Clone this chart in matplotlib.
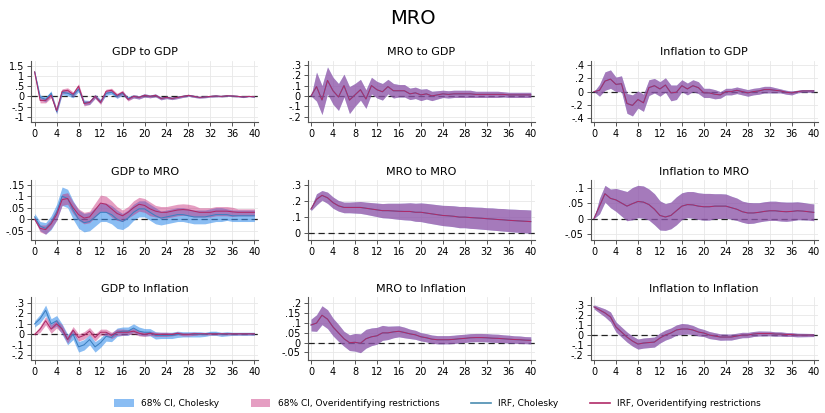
import numpy as np
import matplotlib
matplotlib.use("Agg")
import matplotlib.pyplot as plt
from matplotlib.patches import Patch
from matplotlib.lines import Line2D
from matplotlib.ticker import FuncFormatter

horizon = np.arange(41)

# GDP to GDP
gdp_gdp_chol = [1.2, -0.05, -0.15, 0.15, -0.75, 0.2, 0.15, 0.05, 0.35, -0.3, -0.3, 0.0, -0.25, 0.15, 0.2, 0.0, 0.15, -0.1, 0.0, -0.05, 0.05,
                0.0, 0.05, -0.1, -0.05, -0.1, -0.05, 0.0, 0.05, 0.0, -0.05, -0.03, 0.0, 0.02, 0.0, 0.03, 0.02, 0.0, -0.03, 0.0, -0.02]
gdp_gdp_over = [1.2, -0.2, -0.2, 0.05, -0.7, 0.25, 0.3, 0.1, 0.5, -0.35, -0.3, 0.0, -0.3, 0.25, 0.3, 0.05, 0.2, -0.15, 0.0, -0.05, 0.05,
                0.0, 0.05, -0.1, -0.05, -0.1, -0.05, 0.0, 0.05, 0.0, -0.05, -0.03, 0.0, 0.02, 0.0, 0.03, 0.02, 0.0, -0.03, 0.0, -0.02]
gdp_gdp_hw = [0.05, 0.12, 0.12, 0.12, 0.12, 0.12, 0.12, 0.12, 0.12, 0.12, 0.1, 0.1, 0.1, 0.1, 0.1, 0.1, 0.1, 0.08, 0.08, 0.08, 0.08,
              0.07, 0.07, 0.07, 0.06, 0.06, 0.06, 0.05, 0.05, 0.05, 0.04, 0.04, 0.04, 0.04, 0.03, 0.03, 0.03, 0.03, 0.03, 0.02, 0.02]

# MRO to GDP
mro_gdp = [0.0, 0.09, -0.04, 0.15, 0.05, -0.01, 0.1, -0.04, 0.01, 0.06, -0.03, 0.1, 0.06, 0.04, 0.09, 0.05, 0.05, 0.05, 0.02, 0.03, 0.01,
           0.02, 0.0, 0.01, 0.02, 0.015, 0.02, 0.02, 0.02, 0.02, 0.015, 0.015, 0.015, 0.015, 0.015, 0.015, 0.01, 0.01, 0.01, 0.01, 0.01]
mro_gdp_hw = [0.0, 0.14, 0.14, 0.13, 0.13, 0.13, 0.11, 0.13, 0.11, 0.1, 0.09, 0.08, 0.08, 0.08, 0.07, 0.07, 0.06, 0.06, 0.055, 0.055, 0.055,
              0.05, 0.045, 0.04, 0.035, 0.035, 0.035, 0.035, 0.035, 0.035, 0.03, 0.03, 0.03, 0.03, 0.03, 0.025, 0.025, 0.025, 0.025, 0.025, 0.025]

# Inflation to GDP
inf_gdp = [0.0, 0.02, 0.16, 0.19, 0.11, 0.12, -0.18, -0.21, -0.12, -0.17, 0.06, 0.09, 0.04, 0.1, -0.02, -0.01, 0.09, 0.04, 0.09, 0.06, -0.02,
           -0.02, -0.04, -0.05, 0.0, 0.0, 0.02, 0.0, -0.02, 0.0, 0.01, 0.03, 0.03, 0.02, 0.01, -0.01, -0.02, 0.0, 0.01, 0.01, 0.01]
inf_gdp_hw = [0.0, 0.09, 0.14, 0.14, 0.11, 0.12, 0.15, 0.16, 0.13, 0.13, 0.12, 0.11, 0.11, 0.11, 0.12, 0.11, 0.09, 0.09, 0.09, 0.09, 0.07,
              0.07, 0.07, 0.05, 0.05, 0.05, 0.05, 0.05, 0.05, 0.05, 0.05, 0.05, 0.05, 0.04, 0.03, 0.03, 0.03, 0.02, 0.02, 0.02, 0.02]

# GDP to MRO
gdp_mro_chol = [0.01, -0.03, -0.04, -0.015, 0.03, 0.1, 0.09, 0.04, 0.0, -0.015, -0.01, 0.01, 0.03, 0.03, 0.02, 0.0, -0.01, 0.005, 0.03, 0.045, 0.045,
                0.03, 0.015, 0.005, 0.01, 0.015, 0.02, 0.02, 0.015, 0.01, 0.01, 0.01, 0.015, 0.02, 0.02, 0.02, 0.015, 0.015, 0.015, 0.015, 0.015]
gdp_mro_chol_hw = [0.015, 0.02, 0.025, 0.03, 0.035, 0.04, 0.04, 0.04, 0.04, 0.04, 0.04, 0.04, 0.04, 0.04, 0.04, 0.04, 0.035, 0.035, 0.035, 0.035, 0.035,
                   0.035, 0.035, 0.03, 0.03, 0.03, 0.03, 0.03, 0.03, 0.03, 0.03, 0.03, 0.03, 0.03, 0.03, 0.025, 0.025, 0.025, 0.025, 0.025, 0.025]
gdp_mro_over = [0.0, -0.04, -0.045, -0.02, 0.02, 0.085, 0.09, 0.05, 0.02, 0.005, 0.01, 0.04, 0.07, 0.065, 0.045, 0.025, 0.015, 0.03, 0.05, 0.065, 0.06,
                0.045, 0.035, 0.03, 0.03, 0.035, 0.04, 0.042, 0.04, 0.035, 0.03, 0.03, 0.03, 0.035, 0.035, 0.035, 0.032, 0.03, 0.03, 0.03, 0.03]
gdp_mro_over_hw = [0.005, 0.015, 0.02, 0.02, 0.025, 0.025, 0.025, 0.025, 0.025, 0.025, 0.025, 0.03, 0.035, 0.035, 0.035, 0.03, 0.025, 0.025, 0.03, 0.03, 0.03,
                   0.03, 0.025, 0.025, 0.025, 0.025, 0.025, 0.025, 0.025, 0.025, 0.02, 0.02, 0.02, 0.02, 0.02, 0.02, 0.02, 0.015, 0.015, 0.015, 0.015]

# MRO to MRO
mro_mro = [0.15, 0.21, 0.235, 0.22, 0.19, 0.17, 0.16, 0.16, 0.16, 0.16, 0.155, 0.15, 0.145, 0.14, 0.14, 0.138, 0.136, 0.135, 0.135, 0.13, 0.13,
           0.125, 0.12, 0.115, 0.11, 0.108, 0.105, 0.1, 0.1, 0.097, 0.095, 0.093, 0.09, 0.088, 0.085, 0.083, 0.08, 0.078, 0.076, 0.074, 0.072]
mro_mro_hw = [0.01, 0.035, 0.03, 0.035, 0.035, 0.033, 0.033, 0.033, 0.035, 0.037, 0.038, 0.04, 0.042, 0.044, 0.046, 0.048, 0.05, 0.052, 0.054, 0.056, 0.058,
              0.06, 0.061, 0.062, 0.063, 0.064, 0.065, 0.066, 0.066, 0.067, 0.067, 0.068, 0.068, 0.069, 0.069, 0.07, 0.07, 0.071, 0.071, 0.072, 0.072]

# Inflation to MRO
inf_mro = [0.0, 0.04, 0.08, 0.065, 0.06, 0.05, 0.04, 0.048, 0.055, 0.053, 0.045, 0.03, 0.01, 0.005, 0.01, 0.025, 0.04, 0.045, 0.044, 0.04, 0.038,
           0.038, 0.04, 0.04, 0.04, 0.035, 0.03, 0.022, 0.018, 0.018, 0.02, 0.023, 0.025, 0.025, 0.023, 0.022, 0.023, 0.025, 0.024, 0.022, 0.02]
inf_mro_hw = [0.0, 0.025, 0.027, 0.03, 0.037, 0.042, 0.047, 0.052, 0.052, 0.052, 0.05, 0.05, 0.047, 0.043, 0.043, 0.045, 0.043, 0.042, 0.043, 0.043, 0.043,
              0.043, 0.04, 0.04, 0.039, 0.037, 0.036, 0.034, 0.034, 0.033, 0.031, 0.031, 0.031, 0.031, 0.031, 0.031, 0.03, 0.029, 0.028, 0.027, 0.027]

# GDP to Inflation
gdp_inf_chol = [0.1, 0.15, 0.23, 0.1, 0.13, 0.05, -0.05, 0.0, -0.12, -0.1, -0.05, -0.12, -0.08, -0.02, -0.03, 0.02, 0.03, 0.03, 0.06, 0.03, 0.02,
                0.02, -0.01, -0.01, -0.01, -0.01, 0.0, 0.0, 0.0, 0.0, 0.0, 0.0, 0.01, 0.01, 0.0, 0.005, 0.005, 0.005, 0.005, 0.005, 0.005]
gdp_inf_chol_hw = [0.03, 0.04, 0.05, 0.05, 0.05, 0.05, 0.05, 0.05, 0.05, 0.05, 0.05, 0.05, 0.045, 0.045, 0.04, 0.04, 0.04, 0.04, 0.04, 0.04, 0.035,
                   0.035, 0.035, 0.03, 0.03, 0.03, 0.03, 0.025, 0.025, 0.025, 0.025, 0.02, 0.02, 0.02, 0.02, 0.02, 0.015, 0.015, 0.015, 0.015, 0.015]
gdp_inf_over = [0.0, 0.05, 0.13, 0.05, 0.1, 0.05, -0.05, 0.04, -0.03, -0.01, 0.03, -0.03, 0.02, 0.02, -0.01, 0.02, 0.02, 0.02, 0.03, 0.01, 0.0,
                0.01, 0.0, 0.0, 0.0, 0.0, 0.01, 0.0, 0.0, 0.005, 0.005, 0.005, 0.005, 0.005, 0.005, 0.005, 0.005, 0.005, 0.005, 0.005, 0.005]
gdp_inf_over_hw = [0.01, 0.03, 0.04, 0.04, 0.04, 0.04, 0.035, 0.035, 0.035, 0.035, 0.035, 0.035, 0.03, 0.03, 0.03, 0.03, 0.03, 0.025, 0.025, 0.025, 0.02,
                   0.02, 0.02, 0.02, 0.02, 0.015, 0.015, 0.015, 0.015, 0.015, 0.01, 0.01, 0.01, 0.01, 0.01, 0.01, 0.01, 0.01, 0.01, 0.01, 0.01]

# MRO to Inflation
mro_inf = [0.09, 0.1, 0.14, 0.12, 0.08, 0.05, 0.02, 0.0, 0.002, -0.003, 0.02, 0.03, 0.035, 0.05, 0.05, 0.055, 0.058, 0.052, 0.045, 0.04, 0.03,
           0.025, 0.018, 0.015, 0.015, 0.015, 0.017, 0.02, 0.022, 0.025, 0.026, 0.026, 0.025, 0.023, 0.022, 0.02, 0.018, 0.016, 0.015, 0.013, 0.012]
mro_inf_hw = [0.03, 0.042, 0.048, 0.048, 0.045, 0.043, 0.038, 0.04, 0.045, 0.048, 0.048, 0.045, 0.043, 0.038, 0.034, 0.03, 0.028, 0.027, 0.024, 0.023, 0.021,
              0.021, 0.021, 0.021, 0.021, 0.021, 0.021, 0.021, 0.021, 0.021, 0.021, 0.021, 0.021, 0.021, 0.021, 0.02, 0.02, 0.019, 0.019, 0.018, 0.018]

# Inflation to Inflation
inf_inf = [0.28, 0.25, 0.22, 0.18, 0.08, 0.03, -0.02, -0.06, -0.09, -0.08, -0.075, -0.07, -0.03, 0.0, 0.02, 0.05, 0.06, 0.06, 0.05, 0.03, 0.02,
           0.0, -0.01, -0.02, -0.02, -0.02, -0.01, 0.0, 0.0, 0.01, 0.015, 0.015, 0.015, 0.01, 0.01, 0.005, 0.005, 0.0, 0.0, 0.0, 0.0]
inf_inf_hw = [0.02, 0.03, 0.04, 0.05, 0.05, 0.05, 0.05, 0.05, 0.05, 0.05, 0.05, 0.05, 0.05, 0.05, 0.05, 0.05, 0.055, 0.05, 0.045, 0.04, 0.035,
              0.035, 0.033, 0.032, 0.03, 0.03, 0.028, 0.027, 0.026, 0.025, 0.025, 0.024, 0.023, 0.022, 0.021, 0.02, 0.019, 0.018, 0.017, 0.016, 0.015]

# title, (chol irf, chol hw), (over irf, over hw), yticks, ylim
panels = [
    ("GDP to GDP", (gdp_gdp_chol, gdp_gdp_hw), (gdp_gdp_over, gdp_gdp_hw), [-1, -0.5, 0, 0.5, 1, 1.5], (-1.25, 1.75)),
    ("MRO to GDP", (mro_gdp, mro_gdp_hw), (mro_gdp, mro_gdp_hw), [-0.2, -0.1, 0, 0.1, 0.2, 0.3], (-0.25, 0.34)),
    ("Inflation to GDP", (inf_gdp, inf_gdp_hw), (inf_gdp, inf_gdp_hw), [-0.4, -0.2, 0, 0.2, 0.4], (-0.46, 0.47)),
    ("GDP to MRO", (gdp_mro_chol, gdp_mro_chol_hw), (gdp_mro_over, gdp_mro_over_hw), [-0.05, 0, 0.05, 0.1, 0.15], (-0.09, 0.17)),
    ("MRO to MRO", (mro_mro, mro_mro_hw), (mro_mro, mro_mro_hw), [0, 0.1, 0.2, 0.3], (-0.042, 0.33)),
    ("Inflation to MRO", (inf_mro, inf_mro_hw), (inf_mro, inf_mro_hw), [-0.05, 0, 0.05, 0.1], (-0.069, 0.124)),
    ("GDP to Inflation", (gdp_inf_chol, gdp_inf_chol_hw), (gdp_inf_over, gdp_inf_over_hw), [-0.2, -0.1, 0, 0.1, 0.2, 0.3], (-0.247, 0.354)),
    ("MRO to Inflation", (mro_inf, mro_inf_hw), (mro_inf, mro_inf_hw), [-0.05, 0, 0.05, 0.1, 0.15, 0.2], (-0.089, 0.231)),
    ("Inflation to Inflation", (inf_inf, inf_inf_hw), (inf_inf, inf_inf_hw), [-0.2, -0.1, 0, 0.1, 0.2, 0.3], (-0.25, 0.375)),
]

BLUE_CI = (0.24, 0.57, 0.92)
PINK_CI = (0.78, 0.16, 0.47)
BLUE_ALPHA = 0.6
PINK_ALPHA = 0.45
BLUE_LINE = "#3c7fc0"
PINK_LINE = "#b02a68"


def stata_fmt(v, pos):
    if abs(v) < 1e-9:
        return "0"
    s = ("%g" % v)
    return s.replace("0.", ".")


fig = plt.figure(figsize=(8.25, 4.13), dpi=100)
fig.text(0.5, 0.955, "MRO", ha="center", va="center", fontsize=14)

lefts = [0.038, 0.373, 0.716]
bottoms = [0.705, 0.419, 0.128]
heights = [0.148, 0.145, 0.152]
width = 0.275

for i, (title, chol, over, yticks, ylim) in enumerate(panels):
    r, c = divmod(i, 3)
    ax = fig.add_axes((lefts[c], bottoms[r], width, heights[r]))
    ci_irf, ci_hw = np.array(chol[0]), np.array(chol[1])
    ov_irf, ov_hw = np.array(over[0]), np.array(over[1])
    ax.axhline(0, color="#222222", lw=0.9, dashes=(5, 3), zorder=1)
    ax.fill_between(horizon, ci_irf - ci_hw, ci_irf + ci_hw, color=BLUE_CI, alpha=BLUE_ALPHA, lw=0, zorder=2)
    ax.fill_between(horizon, ov_irf - ov_hw, ov_irf + ov_hw, color=PINK_CI, alpha=PINK_ALPHA, lw=0, zorder=3)
    ax.plot(horizon, ci_irf, color=BLUE_LINE, lw=0.75, zorder=4)
    ax.plot(horizon, ov_irf, color=PINK_LINE, lw=0.75, zorder=5)
    ax.set_xlim(-0.6, 40.7)
    ax.set_ylim(*ylim)
    ax.set_xticks(range(0, 41, 4))
    ax.set_yticks(yticks)
    ax.yaxis.set_major_formatter(FuncFormatter(stata_fmt))
    ax.grid(True, color="#e8e8e8", lw=0.6, zorder=0)
    ax.set_axisbelow(True)
    for s in ["top", "right"]:
        ax.spines[s].set_visible(False)
    for s in ["left", "bottom"]:
        ax.spines[s].set_color("#555555")
        ax.spines[s].set_linewidth(0.8)
    ax.tick_params(length=3, width=0.7, color="#555555", labelsize=7, pad=2)
    ax.set_title(title, fontsize=8, pad=4)

handles = [
    Patch(facecolor=BLUE_CI, alpha=BLUE_ALPHA, edgecolor="none", label="68% CI, Cholesky"),
    Patch(facecolor=PINK_CI, alpha=PINK_ALPHA, edgecolor="none", label="68% CI, Overidentifying restrictions"),
    Line2D([], [], color="#4a8cb0", lw=1.2, label="IRF, Cholesky"),
    Line2D([], [], color=PINK_LINE, lw=1.2, label="IRF, Overidentifying restrictions"),
]
fig.legend(handles=handles, loc="center", bbox_to_anchor=(0.53, 0.022), ncol=4, frameon=False,
           fontsize=6.5, handlelength=2.2, handleheight=1.0, columnspacing=3.5)

fig.savefig("out.png", dpi=100)
